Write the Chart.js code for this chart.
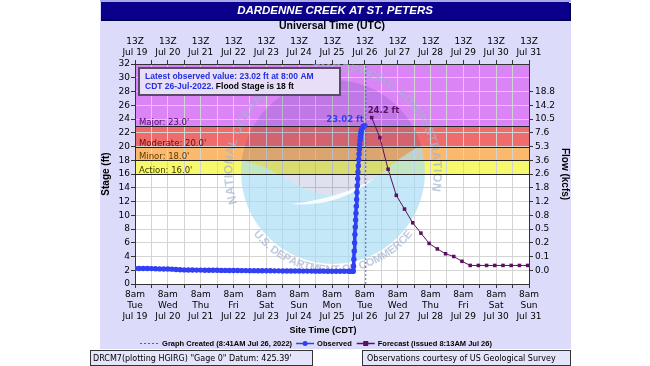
<!DOCTYPE html>
<html>
<head>
<meta charset="utf-8">
<script src="https://cdn.jsdelivr.net/npm/chart.js@4.4.1/dist/chart.umd.min.js"></script>
<style>
  html, body { margin: 0; padding: 0; background: #fff; }
  #wrap { width: 650px; height: 366px; }
</style>
</head>
<body>
<div id="wrap"><canvas id="hydro" width="650" height="366"></canvas></div>
<script>
// x axis is hours since 8am CDT Jul 19 (13Z)
const dayNames = ['Tue', 'Wed', 'Thu', 'Fri', 'Sat', 'Sun', 'Mon', 'Tue', 'Wed', 'Thu', 'Fri', 'Sat', 'Sun'];
const dayDates = ['Jul 19', 'Jul 20', 'Jul 21', 'Jul 22', 'Jul 23', 'Jul 24', 'Jul 25', 'Jul 26', 'Jul 27', 'Jul 28', 'Jul 29', 'Jul 30', 'Jul 31'];
const flowLabels = ['0.0', '0.1', '0.2', '0.5', '0.8', '1.2', '1.8', '2.6', '3.6', '5.3', '7.6', '10.5', '14.2', '18.8']; // at stage 2..28

const floodLevels = [16, 18, 20, 23, 32];
const floodNames = ["Action: 16.0'", "Minor: 18.0'", "Moderate: 20.0'", "Major: 23.0'"];
const floodColors = ['#f8f86c', '#fab96c', '#f06c6c', '#da84f5'];
const floodText = ['#3c3c00', '#5a3a00', '#6a0c0c', '#46105e'];

const obsHours = [0, 3, 6, 9, 12, 15, 18, 21, 24, 27, 30, 33, 36, 39, 42, 45, 48, 51, 54, 57, 60, 63, 66, 69, 72, 75, 78, 81, 84, 87, 90, 93, 96, 99, 102, 105, 108, 111, 114, 117, 120, 123, 126, 129, 132, 135, 138, 141, 144, 147, 150, 153, 156, 157.5, 159,
  159.5, 159.75, 160, 160.25, 160.5, 160.75, 161, 161.25, 161.5, 161.75, 162, 162.25, 162.5, 162.75, 163, 163.25, 163.5, 163.75, 164, 164.25, 164.5, 164.75, 165, 165.25, 165.5, 166, 166.5, 167, 167.5, 168];
const obsStage = [2.26, 2.26, 2.25, 2.25, 2.24, 2.22, 2.2, 2.19, 2.18, 2.16, 2.12, 2.08, 2.05, 2.04, 2.03, 2.02, 2.02, 2.01, 2.0, 2.0, 1.99, 1.98, 1.98, 1.97, 1.97, 1.96, 1.95, 1.95, 1.94, 1.94, 1.93, 1.93, 1.92, 1.92, 1.91, 1.91, 1.9, 1.9, 1.9, 1.89, 1.89, 1.88, 1.88, 1.88, 1.87, 1.87, 1.87, 1.86, 1.86, 1.86, 1.85, 1.85, 1.85, 1.85, 1.85,
  1.85, 2.6, 3.6, 4.8, 6.0, 7.2, 8.3, 9.3, 10.3, 11.3, 12.3, 13.3, 14.3, 15.3, 16.3, 17.2, 18.1, 18.9, 19.6, 20.3, 20.9, 21.4, 21.8, 22.1, 22.4, 22.7, 22.85, 22.95, 23.0, 23.02];

const fcstHours = [173, 179, 185, 191, 197, 203, 209, 215, 221, 227, 233, 239, 245, 251, 257, 263, 269, 275, 281, 287];
const fcstStage = [24.2, 21.3, 16.7, 12.9, 10.9, 8.9, 7.4, 5.9, 5.1, 4.4, 4.0, 3.3, 2.7, 2.7, 2.7, 2.7, 2.7, 2.7, 2.7, 2.7];

const graphCreatedHour = 168.68;
const latestObs = 23.02;
const fcstPeak = 24.2;

const obsColor = '#3040f2';
const fcstColor = '#5c1060';

function arcText(ctx, text, cx, cy, radius, a0, a1, font) {
  // lay characters evenly along an arc from angle a0 to a1
  ctx.font = font;
  const widths = [...text].map(c => ctx.measureText(c).width);
  const total = widths.reduce((a, b) => a + b, 0);
  const span = a1 - a0;
  const extra = (Math.abs(span) * radius - total) / (text.length - 1);
  let pos = 0;
  const dir = Math.sign(span);
  [...text].forEach((c, i) => {
    const a = a0 + dir * (pos + widths[i] / 2) / radius;
    ctx.save();
    ctx.translate(cx + radius * Math.cos(a), cy + radius * Math.sin(a));
    ctx.rotate(dir > 0 ? a + Math.PI / 2 : a - Math.PI / 2);
    ctx.textAlign = 'center';
    ctx.textBaseline = 'middle';
    ctx.fillText(c, 0, 0);
    ctx.restore();
    pos += widths[i] + extra;
  });
}

// faint NOAA watermark behind the data
function drawLogo(ctx, area) {
  const cx = 333, cy = 172, r = 92;
  const edge = () => {
    ctx.moveTo(cx - r - 2, cy - 12);
    ctx.bezierCurveTo(cx - 50, cy - 5, cx - 30, cy + 28, cx + 5, cy + 22);
    ctx.bezierCurveTo(cx + 45, cy + 14, cx + 65, cy - 20, cx + r + 2, cy - 28);
  };
  ctx.save();
  ctx.beginPath();
  ctx.rect(area.left, area.top, area.right - area.left, area.bottom - area.top);
  ctx.clip();

  ctx.save();
  ctx.beginPath();
  ctx.arc(cx, cy, r, 0, Math.PI * 2);
  ctx.clip();
  ctx.globalAlpha = 0.65;
  ctx.fillStyle = '#a6dcf4';
  ctx.beginPath();
  edge();
  ctx.lineTo(cx + r + 2, cy + r + 2);
  ctx.lineTo(cx - r - 2, cy + r + 2);
  ctx.closePath();
  ctx.fill();
  ctx.globalAlpha = 0.14;
  ctx.fillStyle = '#1a2f8a';
  ctx.beginPath();
  edge();
  ctx.lineTo(cx + r + 2, cy - r - 2);
  ctx.lineTo(cx - r - 2, cy - r - 2);
  ctx.closePath();
  ctx.fill();
  // gull
  ctx.globalAlpha = 0.85;
  ctx.fillStyle = '#ffffff';
  ctx.beginPath();
  ctx.moveTo(cx - 42, cy + 32);
  ctx.quadraticCurveTo(cx + 5, cy + 36, cx + 42, cy + 6);
  ctx.quadraticCurveTo(cx + 8, cy + 26, cx - 42, cy + 32);
  ctx.fill();
  ctx.restore();

  ctx.globalAlpha = 0.7;
  ctx.fillStyle = '#a2b4d2';
  arcText(ctx, 'NATIONAL OCEANIC AND ATMOSPHERIC ADMINISTRATION', cx, cy, 104, Math.PI * 0.9, Math.PI * 2.06, 'bold 12px "Liberation Sans"');
  arcText(ctx, 'U.S. DEPARTMENT OF COMMERCE', cx, cy, 98, Math.PI * 0.79, Math.PI * 0.21, 'bold 11px "Liberation Sans"');
  ctx.restore();
}

const backdrop = {
  id: 'backdrop',
  beforeDraw(chart) {
    const { ctx, chartArea: a, scales: { y } } = chart;
    ctx.save();
    ctx.fillStyle = '#ffffff';
    ctx.fillRect(0, 0, chart.width, chart.height);
    ctx.fillStyle = '#dcdcfa';
    ctx.fillRect(100, 0, 471, 349);
    ctx.fillStyle = '#a8a8e8';
    ctx.fillRect(100, 0, 471, 2);
    // title bar
    ctx.fillStyle = '#000050';
    ctx.fillRect(101, 3, 470, 18);
    ctx.fillStyle = '#0a008c';
    ctx.fillRect(101, 2, 468, 17);
    ctx.fillStyle = '#ffffff';
    ctx.font = 'italic bold 11.5px "Liberation Sans"';
    ctx.textAlign = 'center';
    ctx.textBaseline = 'middle';
    ctx.fillText('DARDENNE CREEK AT ST. PETERS', 335, 11);
    // plot background and flood bands
    ctx.fillRect(a.left, a.top, a.right - a.left, a.bottom - a.top);
    for (let i = 0; i < floodNames.length; i++) {
      const top = y.getPixelForValue(floodLevels[i + 1]);
      const bot = y.getPixelForValue(floodLevels[i]);
      ctx.fillStyle = floodColors[i];
      ctx.fillRect(a.left, top, a.right - a.left, bot - top);
    }
    ctx.restore();
  },
  beforeDatasetsDraw(chart) {
    const { ctx, chartArea: a, scales: { y } } = chart;
    drawLogo(ctx, a);
    ctx.save();
    ctx.strokeStyle = '#222';
    ctx.lineWidth = 1;
    ctx.font = '8.5px "DejaVu Sans"';
    ctx.textAlign = 'left';
    ctx.textBaseline = 'alphabetic';
    for (let i = 0; i < floodNames.length; i++) {
      const py = Math.round(y.getPixelForValue(floodLevels[i])) + 0.5;
      ctx.beginPath();
      ctx.moveTo(a.left, py);
      ctx.lineTo(a.right, py);
      ctx.stroke();
      ctx.fillStyle = floodText[i];
      ctx.fillText(floodNames[i], a.left + 4, py - 2);
    }
    ctx.restore();
  },
  afterDraw(chart) {
    const { ctx, scales: { x, y } } = chart;
    ctx.save();
    // info box
    ctx.fillStyle = '#e8def8';
    ctx.fillRect(139, 68, 201, 27);
    ctx.strokeStyle = '#5a4a6a';
    ctx.lineWidth = 2;
    ctx.strokeRect(139, 68, 201, 27);
    ctx.font = 'bold 8.5px "Liberation Sans"';
    ctx.textAlign = 'left';
    ctx.textBaseline = 'middle';
    ctx.fillStyle = '#2030e0';
    ctx.fillText('Latest observed value: ' + latestObs.toFixed(2) + ' ft at 8:00 AM', 145, 77);
    const l2 = 'CDT 26-Jul-2022. ';
    ctx.fillText(l2, 145, 86.5);
    ctx.fillStyle = '#000';
    ctx.fillText('Flood Stage is 18 ft', 145 + ctx.measureText(l2).width, 86.5);

    // peak labels
    ctx.font = 'bold 8.5px "DejaVu Sans"';
    ctx.fillStyle = obsColor;
    ctx.textAlign = 'right';
    ctx.fillText(latestObs.toFixed(2) + ' ft', x.getPixelForValue(obsHours[obsHours.length - 1]) - 1, y.getPixelForValue(latestObs) - 6);
    ctx.fillStyle = fcstColor;
    ctx.textAlign = 'left';
    ctx.fillText(fcstPeak.toFixed(1) + ' ft', x.getPixelForValue(fcstHours[0]) - 4, y.getPixelForValue(fcstPeak) - 7);

    // bottom title
    ctx.fillStyle = '#000';
    ctx.textAlign = 'center';
    ctx.font = 'bold 9px "Liberation Sans"';
    ctx.fillText('Site Time (CDT)', 323, 331);

    // legend
    ctx.font = 'bold 7.5px "Liberation Sans"';
    ctx.textAlign = 'left';
    const t1 = 'Graph Created (8:41AM Jul 26, 2022)';
    const t2 = 'Observed';
    const t3 = 'Forecast (issued 8:13AM Jul 26)';
    const w = 18 + 4 + ctx.measureText(t1).width + 4 + 18 + 3 + ctx.measureText(t2).width + 5 + 18 + 3 + ctx.measureText(t3).width;
    let lx = 316 - w / 2;
    const ly = 343.5;
    ctx.lineWidth = 1;
    ctx.strokeStyle = '#5050d0';
    ctx.setLineDash([2, 2]);
    ctx.beginPath(); ctx.moveTo(lx, ly); ctx.lineTo(lx + 18, ly); ctx.stroke();
    ctx.setLineDash([]);
    lx += 22;
    ctx.fillStyle = '#000';
    ctx.fillText(t1, lx, ly);
    lx += ctx.measureText(t1).width + 4;
    ctx.strokeStyle = obsColor;
    ctx.lineWidth = 1.5;
    ctx.beginPath(); ctx.moveTo(lx, ly); ctx.lineTo(lx + 18, ly); ctx.stroke();
    ctx.fillStyle = obsColor;
    ctx.beginPath(); ctx.arc(lx + 9, ly, 2.5, 0, Math.PI * 2); ctx.fill();
    lx += 21;
    ctx.fillStyle = '#000';
    ctx.fillText(t2, lx, ly);
    lx += ctx.measureText(t2).width + 5;
    ctx.strokeStyle = fcstColor;
    ctx.beginPath(); ctx.moveTo(lx, ly); ctx.lineTo(lx + 18, ly); ctx.stroke();
    ctx.fillStyle = fcstColor;
    ctx.fillRect(lx + 6.5, ly - 2.5, 5, 5);
    lx += 21;
    ctx.fillStyle = '#000';
    ctx.fillText(t3, lx, ly);

    // footer boxes
    ctx.font = '8px "DejaVu Sans"';
    ctx.lineWidth = 1;
    ctx.strokeStyle = '#333';
    ctx.fillStyle = '#e4e4fa';
    ctx.fillRect(90.5, 350.5, 222, 15);
    ctx.strokeRect(90.5, 350.5, 222, 15);
    ctx.fillRect(362.5, 350.5, 208, 15);
    ctx.strokeRect(362.5, 350.5, 208, 15);
    ctx.fillStyle = '#000';
    ctx.fillText('DRCM7(plotting HGIRG) "Gage 0" Datum: 425.39\'', 93, 358.5);
    ctx.fillText('Observations courtesy of US Geological Survey', 367, 358.5);
    ctx.restore();
  }
};

const tickFont = { family: 'DejaVu Sans', size: 9, lineHeight: 1.22 };
const titleFont = { family: 'Liberation Sans', size: 10, weight: 'bold' };

new Chart(document.getElementById('hydro'), {
  type: 'line',
  data: {
    datasets: [
      {
        label: 'Graph Created',
        data: [{ x: graphCreatedHour, y: 0 }, { x: graphCreatedHour, y: 32 }],
        borderColor: '#5a5ad8',
        borderWidth: 1,
        borderDash: [2, 2],
        pointRadius: 0
      },
      {
        label: 'Observed',
        data: obsHours.map((h, i) => ({ x: h, y: obsStage[i] })),
        borderColor: obsColor,
        backgroundColor: obsColor,
        borderWidth: 3.5,
        pointRadius: 2.7,
        pointBorderWidth: 0,
        pointStyle: 'circle'
      },
      {
        label: 'Forecast',
        data: fcstHours.map((h, i) => ({ x: h, y: fcstStage[i] })),
        borderColor: fcstColor,
        backgroundColor: fcstColor,
        borderWidth: 1,
        pointRadius: 2.5,
        pointBorderWidth: 0,
        pointStyle: 'rect'
      }
    ]
  },
  options: {
    responsive: false,
    animation: false,
    events: [],
    layout: { padding: { left: 100, right: 79, top: 20, bottom: 28 } },
    plugins: { legend: { display: false }, tooltip: { enabled: false } },
    scales: {
      x: {
        type: 'linear', position: 'bottom', min: 0, max: 288,
        ticks: {
          stepSize: 12, autoSkip: false, maxRotation: 0, minRotation: 0, padding: 1,
          color: '#000', font: tickFont,
          callback: v => v % 24 === 0 ? ['8am', dayNames[v / 24], dayDates[v / 24]] : ''
        },
        grid: { color: '#d4d4d4', tickColor: '#333', tickLength: 4 },
        border: { color: '#333' },
        afterFit: s => { s.height = 54; }
      },
      x2: {
        type: 'linear', position: 'top', min: 0, max: 288,
        ticks: {
          stepSize: 12, autoSkip: false, maxRotation: 0, minRotation: 0, padding: 2,
          color: '#000', font: tickFont,
          callback: v => v % 24 === 0 ? ['13Z', dayDates[v / 24]] : ''
        },
        grid: { drawOnChartArea: false, tickColor: '#333', tickLength: 4 },
        border: { color: '#333' },
        title: { display: true, text: 'Universal Time (UTC)', color: '#000', font: { family: 'Liberation Sans', size: 10.5, weight: 'bold' }, padding: { top: 0, bottom: 0 } },
        afterFit: s => { s.height = 44; }
      },
      y: {
        type: 'linear', position: 'left', min: 0, max: 32,
        ticks: { stepSize: 2, autoSkip: false, padding: 1, color: '#000', font: tickFont },
        grid: { color: '#d4d4d4', tickColor: '#333', tickLength: 4 },
        border: { color: '#333' },
        title: { display: true, text: 'Stage (ft)', color: '#000', font: titleFont, padding: 0 },
        afterFit: s => { s.width = 35; }
      },
      y2: {
        type: 'linear', position: 'right', min: 0, max: 32,
        afterBuildTicks: s => { s.ticks = s.ticks.filter(t => t.value >= 2 && t.value <= 28); },
        ticks: { stepSize: 2, autoSkip: false, padding: 2, color: '#000', font: tickFont, callback: v => flowLabels[v / 2 - 1] },
        grid: { drawOnChartArea: false, tickColor: '#333', tickLength: 4 },
        border: { color: '#333' },
        title: { display: true, text: 'Flow (kcfs)', color: '#000', font: titleFont, padding: 0 },
        afterFit: s => { s.width = 42; }
      }
    }
  },
  plugins: [backdrop]
});
</script>
</body>
</html>
